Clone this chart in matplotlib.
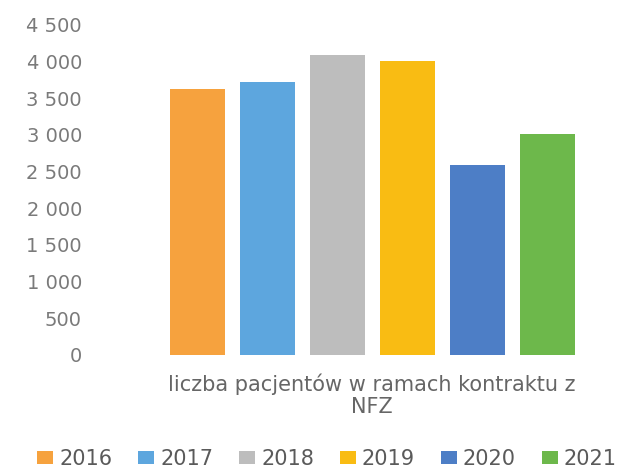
import matplotlib
matplotlib.use("Agg")
import matplotlib.pyplot as plt
from matplotlib.patches import Patch
from matplotlib.ticker import FuncFormatter

years = ["2016", "2017", "2018", "2019", "2020", "2021"]
values = [3630, 3720, 4090, 4010, 2590, 3010]
colors = ["#F6A23E", "#5DA6DE", "#BDBDBD", "#F9BC13", "#4D7EC6", "#6DB84B"]
category = "liczba pacjentów w ramach kontraktu z\nNFZ"
yticks = [0, 500, 1000, 1500, 2000, 2500, 3000, 3500, 4000, 4500]

plt.rcParams['font.family'] = ['DejaVu Sans']
tick_col = "#7a7a7a"
txt = "#666666"

fig = plt.figure(figsize=(6.29, 4.68), dpi=100)
W, H = 629, 468
ax = fig.add_axes([150 / W, 1 - 355 / H, (595 - 150) / W, (355 - 25) / H])

xs = list(range(len(years)))
ax.bar(xs, values, width=0.79, color=colors, edgecolor="none")
ax.set_xlim(-0.68, 5.68)
ax.set_ylim(0, 4500)
ax.set_yticks(yticks)
ax.yaxis.set_major_formatter(FuncFormatter(lambda v, p: f"{int(v):,}".replace(",", " ")))
ax.tick_params(axis="y", length=0, pad=49, labelsize=14, labelcolor=tick_col)
ax.set_xticks([])
for s in ax.spines.values():
    s.set_visible(False)

fig.text(372 / W, 1 - 395 / H, category, ha="center", va="center",
         fontsize=15, color=txt, linespacing=1.15)

handles = [Patch(facecolor=c, edgecolor="none", label=y) for c, y in zip(colors, years)]
fig.legend(handles=handles, loc="center", bbox_to_anchor=(327 / W, 1 - 459 / H),
           ncol=6, frameon=False, fontsize=15, labelcolor="#5a5a5a",
           handlelength=0.75, handleheight=0.55, handletextpad=0.3, columnspacing=1.25,
           borderpad=0, borderaxespad=0)

fig.savefig("out.png", dpi=100)
